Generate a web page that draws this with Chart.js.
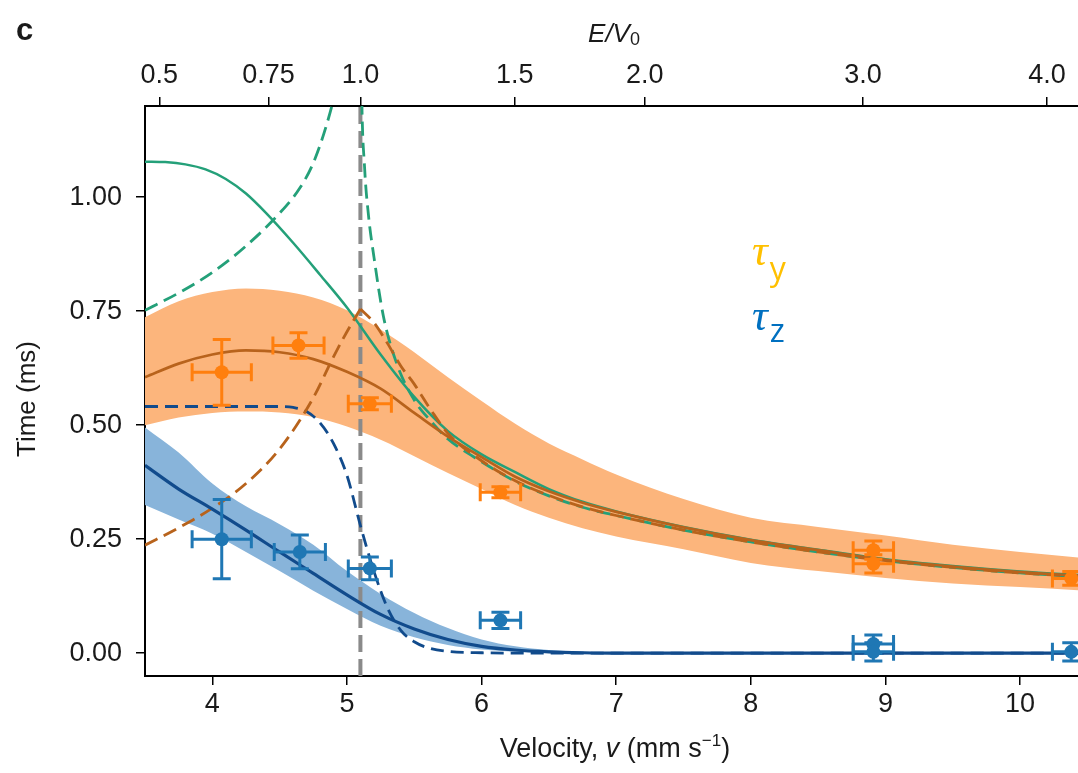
<!DOCTYPE html>
<html>
<head>
<meta charset="utf-8">
<script src="https://cdn.jsdelivr.net/npm/chart.js@4.4.1/dist/chart.umd.min.js"></script>
<style>
  html, body { margin: 0; padding: 0; background: #fff; }
</style>
</head>
<body>
<canvas id="chart" width="1078" height="773"></canvas>
<script>
// velocity grid for the fitted curves and confidence bands (mm/s)
const vGrid = [3.5, 3.75, 4.0, 4.25, 4.5, 4.75, 5.0, 5.25, 5.5, 5.75, 6.0, 6.25, 6.5, 6.75, 7.0, 7.5, 8.0, 8.5, 9.0, 9.5, 10.0, 10.5];

// tau_y fit + band
const yFit    = [0.605, 0.635, 0.655, 0.664, 0.66, 0.645, 0.617, 0.58, 0.527, 0.475, 0.43, 0.387, 0.355, 0.33, 0.31, 0.276, 0.248, 0.226, 0.205, 0.19, 0.178, 0.169];
const yBandHi = [0.737, 0.772, 0.792, 0.80, 0.795, 0.78, 0.752, 0.71, 0.66, 0.605, 0.553, 0.503, 0.46, 0.425, 0.392, 0.338, 0.297, 0.277, 0.258, 0.238, 0.222, 0.208];
const yBandLo = [0.50, 0.517, 0.527, 0.53, 0.528, 0.518, 0.497, 0.468, 0.432, 0.395, 0.36, 0.325, 0.297, 0.274, 0.256, 0.228, 0.198, 0.18, 0.165, 0.153, 0.145, 0.137];

// tau_z fit + band
const zFit    = [0.412, 0.36, 0.316, 0.27, 0.222, 0.175, 0.128, 0.085, 0.053, 0.03, 0.015, 0.007, 0.003, 0.001, 0, 0, 0, 0, 0, 0, 0, 0];
const zBandHi = [0.495, 0.44, 0.372, 0.322, 0.283, 0.238, 0.18, 0.13, 0.088, 0.055, 0.03, 0.015, 0.007, 0.003, 0.001, 0, 0, 0, 0, 0, 0, 0];
const zBandLo = [0.325, 0.293, 0.262, 0.222, 0.18, 0.137, 0.097, 0.06, 0.035, 0.018, 0.008, 0.003, 0.001, 0, 0, 0, 0, 0, 0, 0, 0, 0];

// classical model (green)
const clsV = [3.5, 3.65, 3.8, 3.95, 4.1, 4.25, 4.4, 4.6, 4.8, 5.0, 5.25, 5.5, 5.75, 6.0, 6.25, 6.5, 6.75, 7.0, 7.5, 8.0, 8.5, 9.0, 9.5, 10.0, 10.5];
const clsT = [1.078, 1.077, 1.072, 1.061, 1.04, 1.008, 0.965, 0.9, 0.83, 0.758, 0.655, 0.562, 0.487, 0.436, 0.397, 0.36, 0.332, 0.311, 0.277, 0.249, 0.227, 0.206, 0.191, 0.179, 0.17];
const clsDashLeftV  = [3.5, 3.75, 4.0, 4.25, 4.5, 4.65, 4.75, 4.85, 4.92, 4.97];
const clsDashLeftT  = [0.752, 0.79, 0.835, 0.893, 0.965, 1.02, 1.075, 1.16, 1.24, 1.32];
const clsDashRightV = [5.105, 5.11, 5.13, 5.16, 5.2, 5.27, 5.37, 5.5, 5.62, 5.75, 6.0, 6.25, 6.5, 6.75, 7.0, 7.5, 8.0, 8.5, 9.0, 9.5, 10.0, 10.5];
const clsDashRightT = [1.35, 1.22, 1.07, 0.96, 0.87, 0.74, 0.635, 0.555, 0.51, 0.47, 0.42, 0.377, 0.345, 0.32, 0.302, 0.27, 0.244, 0.222, 0.203, 0.188, 0.176, 0.167];

// dashed tau_y model, rising to the cusp then falling
const yDashRiseV = [3.5, 3.75, 4.0, 4.25, 4.5, 4.75, 4.9, 5.0, 5.1];
const yDashRiseT = [0.237, 0.275, 0.318, 0.372, 0.448, 0.56, 0.65, 0.705, 0.755];
const yDashFallV = [5.1, 5.2, 5.3, 5.4, 5.5, 5.62, 5.75, 6.0, 6.25, 6.5, 6.75, 7.0, 7.5, 8.0, 8.5, 9.0, 9.5, 10.0, 10.5];
const yDashFallT = [0.755, 0.725, 0.68, 0.63, 0.59, 0.535, 0.482, 0.422, 0.378, 0.346, 0.321, 0.302, 0.27, 0.244, 0.222, 0.203, 0.188, 0.176, 0.167];

// dashed tau_z model
const zDashV = [3.5, 4.0, 4.5, 4.6, 4.7, 4.8, 4.9, 5.0, 5.1, 5.2, 5.3, 5.4, 5.5, 5.6, 5.75, 6.0, 6.5, 7.0, 8.0, 9.0, 10.0, 10.5];
const zDashT = [0.541, 0.541, 0.541, 0.539, 0.53, 0.505, 0.46, 0.39, 0.28, 0.18, 0.1, 0.05, 0.025, 0.012, 0.004, 0.001, 0, 0, 0, 0, 0, 0];

// measurements
const yMeasV  = [4.07, 4.64, 5.17, 6.14, 8.91, 8.91, 10.38];
const yMeasT  = [0.616, 0.675, 0.547, 0.353, 0.226, 0.196, 0.164];
const yErrV   = [0.22, 0.19, 0.16, 0.15, 0.15, 0.15, 0.14];
const yErrT   = [0.072, 0.028, 0.013, 0.012, 0.02, 0.02, 0.015];
const zMeasV  = [4.07, 4.65, 5.17, 6.14, 8.91, 8.91, 10.38];
const zMeasT  = [0.25, 0.222, 0.186, 0.072, 0.02, 0.003, 0.003];
const zErrV   = [0.22, 0.19, 0.16, 0.15, 0.15, 0.15, 0.14];
const zErrT   = [0.087, 0.037, 0.025, 0.018, 0.02, 0.02, 0.02];

// threshold velocity where E = V0
const vThreshold = 5.1;

const xTicks = [4, 5, 6, 7, 8, 9, 10];
const yTicks = [0, 0.25, 0.5, 0.75, 1.0];
const topTickRatios = [0.5, 0.75, 1.0, 1.5, 2.0, 3.0, 4.0];
const topTickLabels = ['0.5', '0.75', '1.0', '1.5', '2.0', '3.0', '4.0'];

const X_MIN = 3.5, X_MAX = 10.43, Y_MIN = -0.05, Y_MAX = 1.2;

const SANS = "'Liberation Sans', Arial, sans-serif";
const INK = '#1a1a1a';
const ORANGE = '#ff7f0e', BLUE = '#1f77b4';
const ORANGE_LINE = '#b8631c', BLUE_LINE = '#114b8c', GREEN = '#24a079';
const ORANGE_BAND = '#fcb57c', BLUE_BAND = '#88b4da';

const pts = (xs, ys) => xs.map((x, i) => ({ x: x, y: ys[i] }));

function curve(data, color, width, dash, order) {
  return {
    data: data, showLine: true, borderColor: color, borderWidth: width,
    borderDash: dash || [], pointRadius: 0, fill: false,
    cubicInterpolationMode: 'monotone', order: order
  };
}

function bandEdge(data, order, fillTarget, color) {
  return {
    data: data, showLine: true, borderColor: 'rgba(0,0,0,0)', borderWidth: 1,
    pointRadius: 0, cubicInterpolationMode: 'monotone', order: order,
    fill: fillTarget === undefined ? false : { target: fillTarget },
    backgroundColor: color || 'rgba(0,0,0,0)'
  };
}

const DASH = [14, 7];

const datasets = [
  // 0..1 orange band, 2..3 blue band
  bandEdge(pts(vGrid, yBandHi), 20, 1, ORANGE_BAND),
  bandEdge(pts(vGrid, yBandLo), 20),
  bandEdge(pts(vGrid, zBandHi), 20, 3, BLUE_BAND),
  bandEdge(pts(vGrid, zBandLo), 20),
  // threshold marker
  {
    data: [{ x: vThreshold, y: Y_MIN }, { x: vThreshold, y: Y_MAX }],
    showLine: true, borderColor: '#8a8a8a', borderWidth: 4, borderDash: [17, 7],
    pointRadius: 0, fill: false, tension: 0, order: 15
  },
  curve(pts(clsV, clsT), GREEN, 2.5, null, 10),
  curve(pts(clsDashLeftV, clsDashLeftT), GREEN, 2.8, DASH, 10),
  curve(pts(clsDashRightV, clsDashRightT), GREEN, 2.8, DASH, 10),
  curve(pts(yDashRiseV, yDashRiseT), ORANGE_LINE, 2.8, DASH, 9),
  curve(pts(yDashFallV, yDashFallT), ORANGE_LINE, 2.8, DASH, 9),
  curve(pts(zDashV, zDashT), BLUE_LINE, 2.8, [13, 7], 9),
  curve(pts(vGrid, yFit), ORANGE_LINE, 2.7, null, 8),
  curve(pts(vGrid, zFit), BLUE_LINE, 3.2, null, 8),
  {
    data: pts(yMeasV, yMeasT), errX: yErrV, errY: yErrT,
    showLine: false, pointRadius: 7, pointBorderWidth: 0,
    backgroundColor: ORANGE, borderColor: ORANGE, order: 1
  },
  {
    data: pts(zMeasV, zMeasT), errX: zErrV, errY: zErrT,
    showLine: false, pointRadius: 7, pointBorderWidth: 0,
    backgroundColor: BLUE, borderColor: BLUE, order: 1
  }
];

// horizontal + vertical error bars with caps, drawn just under the markers
const errorBars = {
  id: 'errorBars',
  beforeDatasetDraw(chart, args) {
    const ds = chart.data.datasets[args.index];
    if (!ds.errX) return;
    const { ctx, chartArea: a, scales: { x, y } } = chart;
    const cap = 9;
    ctx.save();
    ctx.beginPath();
    ctx.rect(a.left, a.top, a.right - a.left, a.bottom - a.top);
    ctx.clip();
    ctx.strokeStyle = ds.borderColor;
    ctx.lineWidth = 3;
    ds.data.forEach((p, i) => {
      const px = x.getPixelForValue(p.x), py = y.getPixelForValue(p.y);
      const x0 = x.getPixelForValue(p.x - ds.errX[i]), x1 = x.getPixelForValue(p.x + ds.errX[i]);
      const y0 = y.getPixelForValue(p.y - ds.errY[i]), y1 = y.getPixelForValue(p.y + ds.errY[i]);
      ctx.beginPath();
      ctx.moveTo(x0, py); ctx.lineTo(x1, py);
      ctx.moveTo(x0, py - cap); ctx.lineTo(x0, py + cap);
      ctx.moveTo(x1, py - cap); ctx.lineTo(x1, py + cap);
      ctx.moveTo(px, y0); ctx.lineTo(px, y1);
      ctx.moveTo(px - cap, y0); ctx.lineTo(px + cap, y0);
      ctx.moveTo(px - cap, y1); ctx.lineTo(px + cap, y1);
      ctx.stroke();
    });
    ctx.restore();
  }
};

// text pieces in mixed styles laid out on one baseline
function drawRuns(ctx, runs, x, baseline, align) {
  let total = 0;
  runs.forEach(r => { ctx.font = r.font; r.w = ctx.measureText(r.text).width; total += r.w; });
  let cx = align === 'center' ? x - total / 2 : x;
  ctx.textAlign = 'left';
  ctx.textBaseline = 'alphabetic';
  runs.forEach(r => {
    ctx.font = r.font;
    ctx.fillStyle = r.color || INK;
    ctx.fillText(r.text, cx + (r.dx || 0), baseline + (r.dy || 0));
    cx += r.w + (r.dx || 0);
  });
}

const labels = {
  id: 'labels',
  afterDraw(chart) {
    const ctx = chart.ctx;
    ctx.save();

    ctx.fillStyle = INK;
    ctx.font = "bold 31px " + SANS;
    ctx.textBaseline = 'alphabetic';
    ctx.fillText('c', 16, 40);

    drawRuns(ctx, [
      { text: 'E/V', font: 'italic 26px ' + SANS },
      { text: '0', font: '18px ' + SANS, dy: 3 }
    ], 614, 42, 'center');

    drawRuns(ctx, [
      { text: 'Velocity, ', font: '27px ' + SANS },
      { text: 'v', font: 'italic 27px ' + SANS },
      { text: ' (mm s', font: '27px ' + SANS },
      { text: '\u22121', font: '17px ' + SANS, dy: -11 },
      { text: ')', font: '27px ' + SANS }
    ], 615, 757, 'center');

    ctx.save();
    ctx.translate(28, 399);
    ctx.rotate(-Math.PI / 2);
    ctx.font = '26px ' + SANS;
    ctx.fillStyle = INK;
    ctx.textAlign = 'center';
    ctx.textBaseline = 'middle';
    ctx.fillText('Time (ms)', 0, 0);
    ctx.restore();

    drawRuns(ctx, [
      { text: '\u03c4', font: "italic 44px 'Liberation Serif', serif", color: '#ffc000' },
      { text: 'y', font: "32px 'Open Sans', sans-serif", color: '#ffc000', dx: 2, dy: 15 }
    ], 752, 265, 'left');
    drawRuns(ctx, [
      { text: '\u03c4', font: "italic 44px 'Liberation Serif', serif", color: '#0070c0' },
      { text: 'z', font: "32px 'Open Sans', sans-serif", color: '#0070c0', dx: 2, dy: 12 }
    ], 752, 330, 'left');

    ctx.restore();
  }
};

const tickFont = { family: SANS, size: 27 };
const axisGrid = { drawOnChartArea: false, drawTicks: true, tickLength: 9, color: '#000', lineWidth: 1.5 };
const axisBorder = { display: true, color: '#000', width: 2 };

new Chart(document.getElementById('chart'), {
  type: 'scatter',
  data: { datasets: datasets },
  plugins: [errorBars, labels],
  options: {
    responsive: false,
    animation: false,
    layout: { padding: 0, autoPadding: false },
    plugins: { legend: { display: false }, tooltip: { enabled: false } },
    scales: {
      x: {
        type: 'linear', position: 'bottom', min: X_MIN, max: X_MAX,
        afterBuildTicks: s => { s.ticks = xTicks.map(v => ({ value: v })); },
        afterFit: s => { s.height = 97; },
        ticks: { font: tickFont, color: INK, padding: 3, maxRotation: 0, callback: v => String(v) },
        grid: axisGrid, border: axisBorder
      },
      xTop: {
        type: 'linear', position: 'top', min: X_MIN, max: X_MAX,
        afterBuildTicks: s => { s.ticks = topTickRatios.map(r => ({ value: vThreshold * Math.sqrt(r) })); },
        afterFit: s => { s.height = 106; },
        ticks: { font: tickFont, color: INK, padding: 5, maxRotation: 0, callback: (v, i) => topTickLabels[i] },
        grid: axisGrid, border: axisBorder
      },
      y: {
        type: 'linear', position: 'left', min: Y_MIN, max: Y_MAX,
        afterBuildTicks: s => { s.ticks = yTicks.map(v => ({ value: v })); },
        afterFit: s => { s.width = 145; },
        ticks: { font: tickFont, color: INK, padding: 14, callback: v => v.toFixed(2) },
        grid: axisGrid, border: axisBorder
      }
    }
  }
});
</script>
</body>
</html>
